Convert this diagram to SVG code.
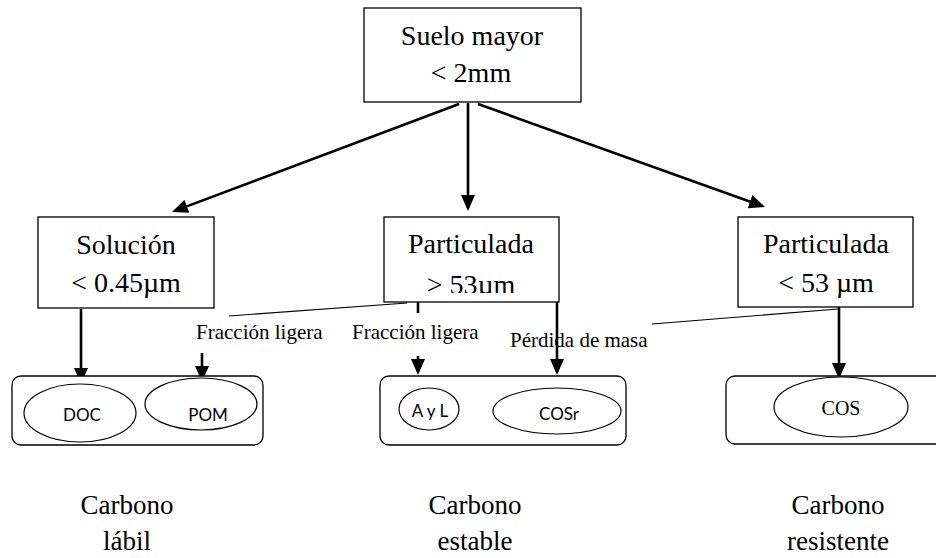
<svg xmlns="http://www.w3.org/2000/svg" width="936" height="558" viewBox="0 0 936 558">
<style>
.box{fill:#fff;stroke:#000;stroke-width:1.3}
.cont{fill:#fff;stroke:#000;stroke-width:1.3}
.ell{fill:#fff;stroke:#000;stroke-width:1.2}
.t{font-family:"Liberation Serif","Times New Roman",serif;font-size:28px;fill:#000;text-anchor:middle}
.lbl{font-family:"Liberation Serif","Times New Roman",serif;font-size:21px;fill:#000}
.s{font-family:Lato,"Open Sans",sans-serif;font-size:17px;fill:#000;text-anchor:middle}
.b{font-family:"Liberation Serif","Times New Roman",serif;font-size:27px;fill:#000;text-anchor:middle}
.arr{stroke:#000;stroke-width:2.6;fill:none;marker-end:url(#ah)}
.ln{stroke:#000;stroke-width:2.6;fill:none}
.thin{stroke:#000;stroke-width:1.1;fill:none}
</style>
<defs>
<marker id="ah" viewBox="0 0 16 14" refX="13" refY="7" markerWidth="16" markerHeight="14" markerUnits="userSpaceOnUse" orient="auto">
<path d="M0,0 L16,7 L0,14 z" fill="#000"/>
</marker>
<clipPath id="clipMid"><rect x="384" y="217" width="175" height="76"/></clipPath>
</defs>
<rect width="936" height="558" fill="#fff"/>
<g id="connectors">
<line class="arr" x1="459" y1="104" x2="174.8" y2="210.9"/>
<line class="arr" x1="468" y1="103" x2="468" y2="208"/>
<line class="arr" x1="478" y1="104" x2="762.2" y2="206"/>
<line class="arr" x1="81" y1="309" x2="81" y2="381"/>
<line class="thin" x1="407" y1="303" x2="229" y2="316"/>
<line class="arr" x1="202" y1="353" x2="202" y2="379"/>
<line class="ln" x1="418" y1="302" x2="418" y2="313"/>
<line class="arr" x1="418" y1="356" x2="418" y2="372"/>
<line class="thin" x1="838" y1="309" x2="652" y2="324"/>
<line class="arr" x1="839" y1="307" x2="839" y2="376"/>
</g>
<g id="n-suelo">
<rect class="box" x="364" y="8" width="217" height="94"/>
<text class="t" x="472" y="45">Suelo mayor</text>
<text class="t" x="471" y="82">&lt; 2mm</text>
</g>
<g id="n-solucion">
<rect class="box" x="38" y="217" width="176" height="91"/>
<text class="t" x="126" y="254">Solución</text>
<text class="t" x="126" y="292">&lt; 0.45µm</text>
</g>
<g id="n-part-mayor">
<rect class="box" x="384" y="217" width="175" height="85"/>
<text class="t" x="471" y="253">Particulada</text>
<text class="t" x="471" y="294" clip-path="url(#clipMid)">&gt; 53µm</text>
</g>
<g id="n-part-menor">
<rect class="box" x="738" y="217" width="175" height="90"/>
<text class="t" x="826" y="253">Particulada</text>
<text class="t" x="826" y="292">&lt; 53 µm</text>
</g>
<g id="labels">
<text class="lbl" x="196" y="339">Fracción ligera</text>
<text class="lbl" x="352" y="339">Fracción ligera</text>
</g>
<g id="c-labil">
<rect class="cont" x="12" y="376" width="251" height="69" rx="9"/>
<ellipse class="ell" cx="80" cy="413" rx="56" ry="29"/>
<text class="s" x="82" y="421">DOC</text>
<ellipse class="ell" cx="201" cy="404" rx="56" ry="26"/>
<text class="s" x="208" y="421">POM</text>
</g>
<g id="c-estable">
<rect class="cont" x="380" y="376" width="246" height="69" rx="9"/>
<ellipse class="ell" cx="429" cy="409" rx="30" ry="21"/>
<text class="s" x="430" y="417">A y L</text>
<ellipse class="ell" cx="557" cy="411" rx="64" ry="23"/>
<text class="s" x="559" y="420">COSr</text>
</g>
<g id="c-resistente">
<rect class="cont" x="726" y="376" width="225" height="68" rx="9"/>
<ellipse class="ell" cx="841" cy="407" rx="67" ry="30"/>
<text class="t" style="font-size:20px" x="841" y="415">COS</text>
</g>
<g id="perdida">
<line class="arr" x1="557" y1="302" x2="557" y2="372"/>
<text class="lbl" x="510" y="347">Pérdida de masa</text>
</g>
<g id="bottom">
<text class="b" x="127" y="514">Carbono</text>
<text class="b" x="127" y="550">lábil</text>
<text class="b" x="475" y="514">Carbono</text>
<text class="b" x="475" y="550">estable</text>
<text class="b" x="838" y="514">Carbono</text>
<text class="b" x="838" y="550">resistente</text>
</g>
</svg>
